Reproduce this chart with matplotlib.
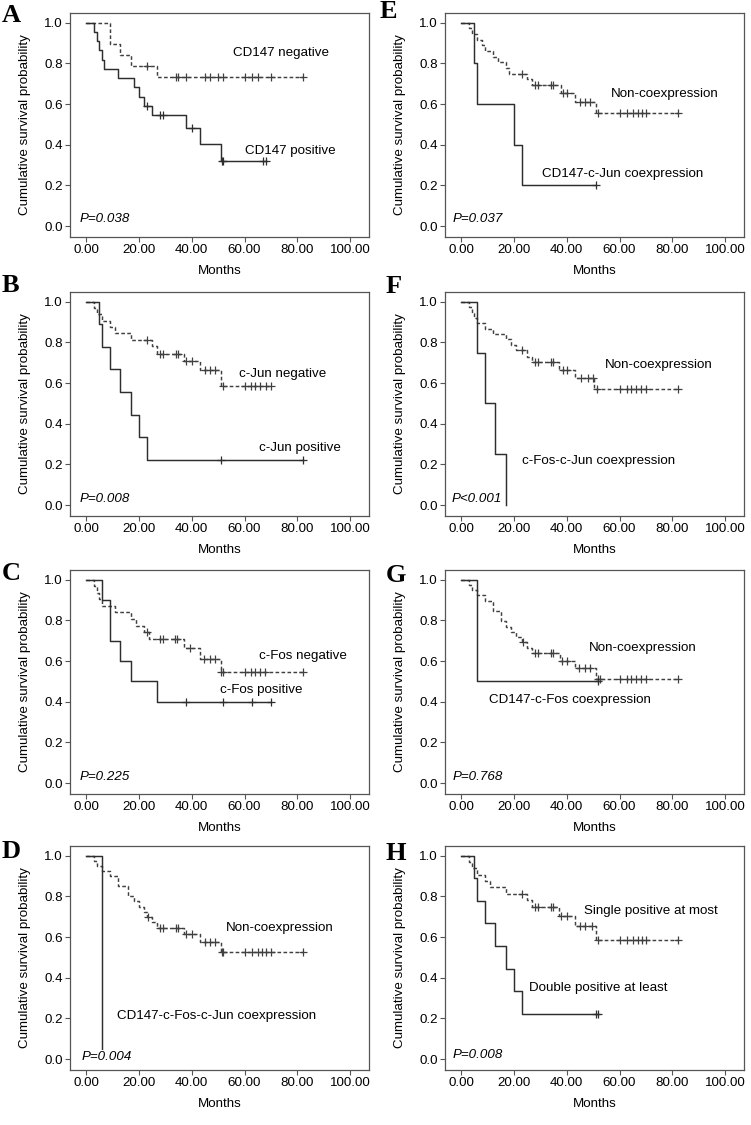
import numpy as np
import matplotlib
matplotlib.use("Agg")
import matplotlib.pyplot as plt

plt.rcParams['font.family'] = ['Liberation Sans', 'DejaVu Sans']

# --- dados (tempo do evento, sobrevida apos o evento, censuras) ---
# A: CD147
a_neg_t = [9, 13, 17, 27]
a_neg_s = [0.895, 0.842, 0.789, 0.733]
a_neg_c = [23, 34, 35, 38, 45, 47, 50, 52, 60, 63, 65, 70, 82]
a_pos_t = [3, 4, 5, 6, 7, 12, 18, 20, 22, 25, 38, 43, 51]
a_pos_s = [0.955, 0.909, 0.864, 0.818, 0.773, 0.727, 0.682, 0.636, 0.591, 0.545, 0.482, 0.402, 0.321]
a_pos_c = [23, 28, 29, 40, 51.5, 52, 67, 68]

# B: c-Jun
b_neg_t = [3, 4, 6, 9, 11, 17, 25, 27, 37, 43, 51]
b_neg_s = [0.969, 0.938, 0.906, 0.875, 0.844, 0.814, 0.781, 0.745, 0.707, 0.663, 0.588]
b_neg_c = [23, 28, 29, 34, 35, 38, 40, 45, 47, 49, 52, 60, 62.5, 64, 66, 68, 70]
b_pos_t = [5, 6, 9, 13, 17, 20, 23]
b_pos_s = [0.889, 0.778, 0.667, 0.556, 0.444, 0.333, 0.222]
b_pos_c = [51, 82]

# C: c-Fos
c_neg_t = [3, 4, 5, 6, 11, 17, 19, 22, 24, 37, 43, 51]
c_neg_s = [0.968, 0.935, 0.903, 0.871, 0.839, 0.806, 0.774, 0.742, 0.71, 0.663, 0.612, 0.545]
c_neg_c = [23, 28, 29, 33.5, 34.5, 39.5, 44.5, 47, 49, 51.2, 52, 60, 62.5, 64, 65.7, 67.8, 82]
c_pos_t = [6, 9, 13, 17, 27]
c_pos_s = [0.9, 0.7, 0.6, 0.5, 0.4]
c_pos_c = [38, 52, 63, 70]

# D: CD147-c-Fos-c-Jun
d_non_t = [3, 4, 6, 9, 12, 16, 18, 20, 22, 23, 25, 27, 37, 43, 51]
d_non_s = [0.975, 0.95, 0.925, 0.9, 0.85, 0.8, 0.775, 0.75, 0.725, 0.7, 0.673, 0.647, 0.616, 0.577, 0.525]
d_non_c = [23.5, 28, 29, 34, 35, 38, 40, 45, 47, 49, 51.5, 52, 60, 63, 65, 66.5, 68, 70, 82]
d_co_t = [6]
d_co_s = [0.0]
d_co_c = []

# E: CD147-c-Jun
e_non_t = [3, 4, 6, 8, 9, 12, 14, 17, 18, 25, 27, 38, 43, 51]
e_non_s = [0.972, 0.944, 0.917, 0.889, 0.861, 0.833, 0.806, 0.778, 0.75, 0.722, 0.694, 0.655, 0.611, 0.556]
e_non_c = [23, 28, 29, 34, 35, 38.5, 40, 45, 47, 49, 52, 60, 63, 65, 67, 68.5, 70, 82]
e_co_t = [5, 6, 20, 23]
e_co_s = [0.8, 0.6, 0.4, 0.2]
e_co_c = [51]

# F: c-Fos-c-Jun
f_non_t = [3, 4, 5, 6, 9, 12, 17, 19, 21, 25, 27, 37, 43, 50.5]
f_non_s = [0.974, 0.947, 0.921, 0.895, 0.868, 0.842, 0.816, 0.789, 0.763, 0.73, 0.704, 0.666, 0.625, 0.571]
f_non_c = [23, 28, 29, 34, 35, 38.5, 40, 45.5, 48, 50, 51.4, 60, 62.7, 64.5, 66.4, 68, 70, 82]
f_co_t = [6, 9, 13, 17]
f_co_s = [0.75, 0.5, 0.25, 0.0]
f_co_c = []

# G: CD147-c-Fos
g_non_t = [3, 4, 6, 9, 12, 15, 17, 19, 21, 23, 25, 27, 37.5, 43, 51]
g_non_s = [0.974, 0.949, 0.923, 0.897, 0.846, 0.795, 0.769, 0.744, 0.718, 0.692, 0.664, 0.638, 0.602, 0.566, 0.512]
g_non_c = [23.5, 28, 29, 34, 35, 38.2, 40, 44.5, 47, 49, 51.8, 52.5, 60, 62.7, 64.5, 66.4, 68, 70, 82]
g_co_t = [6]
g_co_s = [0.5]
g_co_c = [52]

# H: single vs double positive
h_sing_t = [3, 4, 6, 9, 11, 17, 25, 27, 37, 43, 51]
h_sing_s = [0.969, 0.938, 0.906, 0.875, 0.844, 0.814, 0.781, 0.746, 0.705, 0.654, 0.588]
h_sing_c = [23, 28, 29, 34, 35, 38, 40, 45, 47, 49.5, 52, 60, 63, 65, 67, 68.5, 70, 82]
h_doub_t = [5, 6, 9, 13, 17, 20, 23]
h_doub_s = [0.889, 0.778, 0.667, 0.556, 0.444, 0.333, 0.222]
h_doub_c = [51, 52]

letras = ['A', 'B', 'C', 'D', 'E', 'F', 'G', 'H']
p_valores = ['P=0.038', 'P=0.008', 'P=0.225', 'P=0.004', 'P=0.037', 'P<0.001', 'P=0.768', 'P=0.008']
rotulo_tracejado = ['CD147 negative', 'c-Jun negative', 'c-Fos negative', 'Non-coexpression',
                    'Non-coexpression', 'Non-coexpression', 'Non-coexpression', 'Single positive at most']
rotulo_solido = ['CD147 positive', 'c-Jun positive', 'c-Fos positive', 'CD147-c-Fos-c-Jun coexpression',
                 'CD147-c-Jun coexpression', 'c-Fos-c-Jun coexpression', 'CD147-c-Fos coexpression',
                 'Double positive at least']

curvas = [
    (a_neg_t, a_neg_s, a_neg_c, a_pos_t, a_pos_s, a_pos_c),
    (b_neg_t, b_neg_s, b_neg_c, b_pos_t, b_pos_s, b_pos_c),
    (c_neg_t, c_neg_s, c_neg_c, c_pos_t, c_pos_s, c_pos_c),
    (d_non_t, d_non_s, d_non_c, d_co_t, d_co_s, d_co_c),
    (e_non_t, e_non_s, e_non_c, e_co_t, e_co_s, e_co_c),
    (f_non_t, f_non_s, f_non_c, f_co_t, f_co_s, f_co_c),
    (g_non_t, g_non_s, g_non_c, g_co_t, g_co_s, g_co_c),
    (h_sing_t, h_sing_s, h_sing_c, h_doub_t, h_doub_s, h_doub_c),
]

# posicao dos rotulos (x, y em dados): tracejado, solido, P
pos_tracejado = [(55.6, 0.85), (57.8, 0.646), (65.6, 0.627), (52.9, 0.647),
                 (56.9, 0.65), (54.5, 0.69), (48.4, 0.665), (46.4, 0.73)]
pos_solido = [(60, 0.37), (65.3, 0.28), (50.6, 0.459), (11.8, 0.213),
              (30.6, 0.257), (23, 0.219), (10.5, 0.41), (25.6, 0.35)]
pos_p = [(-2.5, 0.035), (-2.4, 0.03), (-2.4, 0.03), (-1.5, 0.01),
         (-3.2, 0.033), (-3.5, 0.03), (-3.2, 0.03), (-3.2, 0.02)]

# layout em pixels
W, H = 751, 1125
col_x = [70, 445]
row_top = [13, 292, 570, 846]
ax_w, ax_h = 299, 224
letra_pos = [(2, 22), (2, 292), (2, 580), (2, 858), (380, 18), (386, 293), (386, 582), (386, 860)]

cor_sol = '#2e2e2e'
cor_tr = '#404040'
fs = 9.6


def desenha_km(ax, t, s, c, estilo, cor):
    fim = max(list(t) + list(c))
    xs = [0] + list(t) + [fim]
    ys = [1.0] + list(s) + [s[-1]]
    ax.step(xs, ys, where='post', color=cor, lw=1.05, linestyle=estilo)
    if len(c) > 0:
        s_arr = np.array([1.0] + list(s))
        idx = np.searchsorted(np.array(t), np.array(c), side='right')
        ax.plot(c, s_arr[idx], linestyle='none', marker='+', ms=5.5, mew=0.9, color=cor)


fig = plt.figure(figsize=(W / 100, H / 100), dpi=100)

for i in range(8):
    col = i // 4
    row = i % 4
    left = col_x[col] / W
    bottom = 1 - (row_top[row] + ax_h) / H
    ax = fig.add_axes([left, bottom, ax_w / W, ax_h / H])

    t1, s1, c1, t2, s2, c2 = curvas[i]
    desenha_km(ax, t1, s1, c1, (0, (2.5, 1.6)), cor_tr)
    desenha_km(ax, t2, s2, c2, '-', cor_sol)

    ax.text(*pos_tracejado[i], rotulo_tracejado[i], fontsize=fs, ha='left', va='center')
    ax.text(*pos_solido[i], rotulo_solido[i], fontsize=fs, ha='left', va='center')
    ax.text(*pos_p[i], p_valores[i], fontsize=fs, style='italic', ha='left', va='center', zorder=5,
            bbox=dict(facecolor='white', edgecolor='none', pad=0.5))

    ax.set_xlim(-6.05, 107.1)
    ax.set_ylim(-0.054, 1.048)
    ax.set_xticks(np.arange(0, 101, 20))
    ax.set_xticklabels(['%.2f' % v for v in np.arange(0, 101, 20)])
    ax.set_yticks(np.arange(0, 1.01, 0.2))
    ax.set_yticklabels(['%.1f' % v for v in np.arange(0, 1.01, 0.2)])
    ax.tick_params(direction='out', length=3.3, width=0.8, color='#555555', labelsize=fs, pad=2)
    for sp in ax.spines.values():
        sp.set_color('#555555')
        sp.set_linewidth(0.9)

    ax.set_xlabel('Months', fontsize=fs)
    ax.set_ylabel('Cumulative survival probability', fontsize=fs)
    ax.xaxis.set_label_coords(0.5, -28 / ax_h)
    ax.yaxis.set_label_coords(-39 / ax_w, 0.5)

    lx, ly = letra_pos[i]
    fig.text(lx / W, 1 - ly / H, letras[i], fontsize=19, fontweight='bold',
             family=['Liberation Serif', 'DejaVu Serif'], ha='left', va='baseline')

fig.savefig('out.png', dpi=100)
